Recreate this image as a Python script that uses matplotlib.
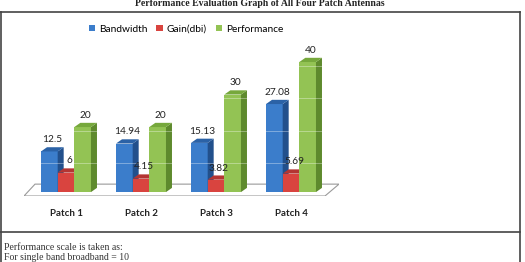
import numpy as np
import matplotlib
matplotlib.use("Agg")
import matplotlib.pyplot as plt
from matplotlib.patches import Polygon, Patch
from matplotlib.transforms import ScaledTranslation

# ─────────────────────────────────────────────
# DATA
# ─────────────────────────────────────────────
patches     = ["Patch 1", "Patch 2", "Patch 3", "Patch 4"]
bandwidth   = [12.5, 14.94, 15.13, 27.08]
gain        = [6, 4.15, 3.82, 5.69]
performance = [20, 20, 30, 40]
series_names = ["Bandwidth", "Gain(dbi)", "Performance"]
value_labels = [["12.5", "14.94", "15.13", "27.08"],
                ["6", "4.15", "3.82", "5.69"],
                ["20", "20", "30", "40"]]
grid_vals = [10, 20, 30, 40]

title = "Performance Evaluation Graph of All Four Patch Antennas"
note_lines = ["Performance scale is taken as:",
              "For single band broadband = 10"]

# colours: front, side, top
colors = [("#3B7DCB", "#22508C", "#2B62A6"),
          ("#D9443F", "#982B28", "#B43532"),
          ("#93C354", "#5E8A2D", "#76A83C")]

W, H = 525, 262
fig = plt.figure(figsize=(W / 100, H / 100), dpi=100)
fig.patch.set_facecolor("white")

# chart axes, placed in pixel terms
ax_l, ax_r, ax_top, ax_bot = 24, 339, 50, 196
ax = fig.add_axes([ax_l / W, 1 - ax_bot / H, (ax_r - ax_l) / W, (ax_bot - ax_top) / H])
ax.set_xlim(-0.56, 3.64)
ax.set_ylim(-1.2, 43.7)

bw = 0.222      # bar width
dx = 0.08       # depth offset x
dy = 1.3        # depth offset y

# floor slab
floor = Polygon([(-0.56, -1.2), (3.453, -1.2), (3.64, 2.45), (-0.413, 2.45)],
                closed=True, facecolor="white", edgecolor="#9a9a9a", lw=0.8, zorder=1)
ax.add_patch(floor)

data = [bandwidth, gain, performance]
x = np.arange(len(patches))
for s, vals in enumerate(data):
    front, side, top = colors[s]
    for g, v in enumerate(vals):
        x0 = x[g] - 1.5 * bw + s * bw
        z = 3 + g * 3 + s * 0.1
        ax.bar(x0, v, width=bw, align="edge", color=front, lw=0, zorder=z)
        ax.add_patch(Polygon([(x0 + bw, 0), (x0 + bw + dx, dy), (x0 + bw + dx, v + dy), (x0 + bw, v)],
                             closed=True, facecolor=side, lw=0, zorder=z))
        ax.add_patch(Polygon([(x0, v), (x0 + dx, v + dy), (x0 + bw + dx, v + dy), (x0 + bw, v)],
                             closed=True, facecolor=top, lw=0, zorder=z))
        ax.text(x0 + bw / 2 + dx / 2, v + dy + 0.9, value_labels[s][g],
                ha="center", va="bottom", fontsize=7.3, family="Lato",
                color="#222222", zorder=20, clip_on=False)

# faint back-wall gridlines that only show over the bars
for gv in grid_vals:
    ax.axhline(gv - 1.2, color="white", alpha=0.35, lw=0.7, zorder=15)

# category labels
ax.set_xticks(x)
ax.set_xticklabels(patches, fontsize=7, family="Lato", fontweight="bold", color="#222222")
offset = ScaledTranslation(-5 / 100, 0, fig.dpi_scale_trans)
for lab in ax.get_xticklabels():
    lab.set_transform(lab.get_transform() + offset)
ax.tick_params(axis="x", length=0, pad=9)
for sp in ax.spines.values():
    sp.set_visible(False)
ax.set_yticks([])
ax.set_facecolor("none")

# legend
handles = [Patch(facecolor=c[0], edgecolor="none") for c in colors]
fig.legend(handles, series_names, loc="center", bbox_to_anchor=(186 / W, 1 - 29 / H),
           ncol=3, frameon=False, prop={"family": "Lato", "size": 7.3},
           handlelength=0.6, handleheight=0.6, handletextpad=0.4, columnspacing=0.9)

# table frame lines
fig.add_artist(plt.Line2D([0, 520 / W], [1 - 12 / H] * 2, color="#444444", lw=1.2))
fig.add_artist(plt.Line2D([0, 520 / W], [1 - 232 / H] * 2, color="#444444", lw=1.2))
fig.add_artist(plt.Line2D([1 / W, 1 / W], [0, 1 - 12 / H], color="#444444", lw=1.2))
fig.add_artist(plt.Line2D([520 / W, 520 / W], [0, 1 - 12 / H], color="#444444", lw=1.2))

# title, cut at the top like the screenshot
fig.text(260 / W, 1 - 3 / H, title, ha="center", va="center", fontsize=7,
         family="Liberation Serif", fontweight="bold", color="#222222")

# notes below the table row
fig.text(4 / W, 1 - 248 / H, note_lines[0], ha="left", va="center", fontsize=7,
         family="Liberation Serif", color="#333333")
fig.text(4 / W, 1 - 257 / H, note_lines[1], ha="left", va="center", fontsize=7,
         family="Liberation Serif", color="#333333")

fig.savefig("out.png", dpi=100)
